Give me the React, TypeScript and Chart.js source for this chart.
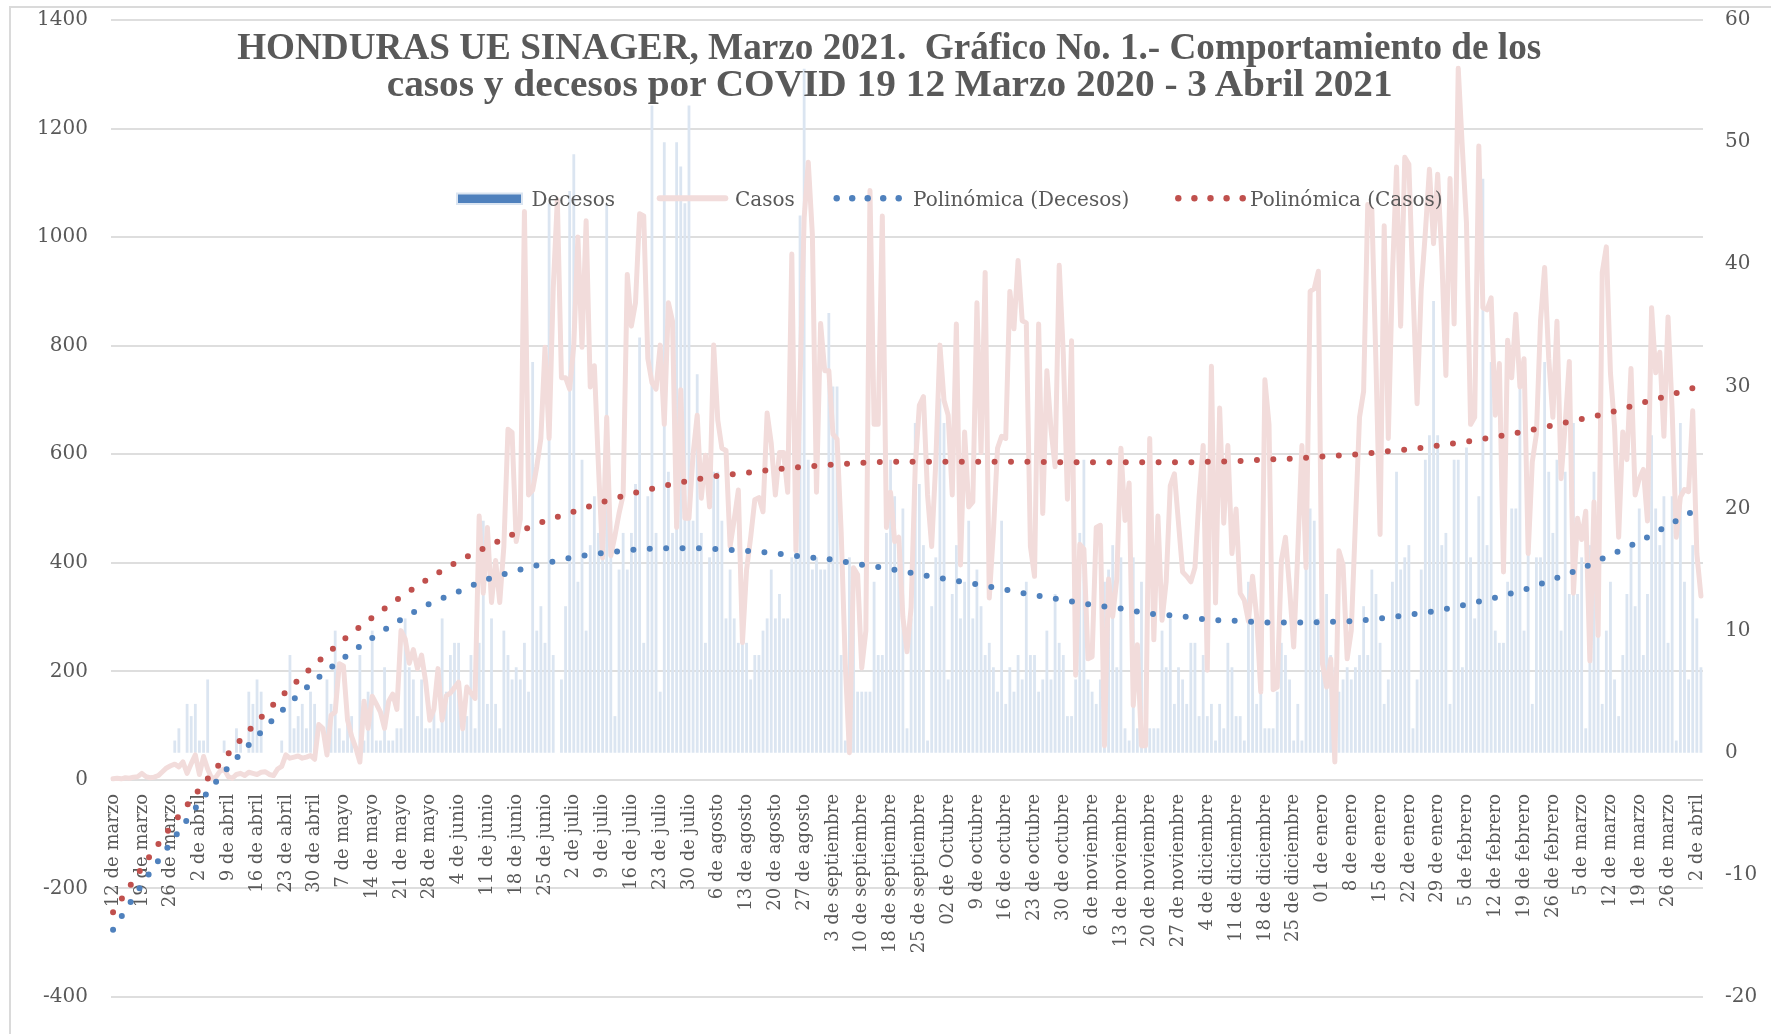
import React, { useEffect, useRef } from 'react';
import { Chart, registerables } from 'chart.js';

Chart.register(...registerables);

// Weekly category labels (one every 7 daily categories)
const weeklyLabels = [
  '12 de marzo', '19 de marzo', '26 de marzo', '2 de abril', '9 de abril', '16 de abril', '23 de abril', '30 de abril',
  '7 de mayo', '14 de mayo', '21 de mayo', '28 de mayo', '4 de junio', '11 de junio', '18 de junio', '25 de junio',
  '2 de julio', '9 de julio', '16 de julio', '23 de julio', '30 de julio', '6 de agosto', '13 de agosto', '20 de agosto',
  '27 de agosto', '3 de septiembre', '10 de septiembre', '18 de septiembre', '25 de septiembre', '02 de Octubre',
  '9 de octubre', '16 de octubre', '23 de octubre', '30 de octubre', '6 de noviembre', '13 de noviembre',
  '20 de noviembre', '27 de noviembre', '4 de diciembre', '11 de diciembre', '18 de diciembre', '25 de diciembre',
  '01 de enero', '8 de enero', '15 de enero', '22 de enero', '29 de enero', '5 de febrero', '12 de febrero',
  '19 de febrero', '26 de febrero', '5 de marzo', '12 de marzo', '19 de marzo', '26 de marzo', '2 de abril',
];

// Daily confirmed cases (left axis)
const casos = [
  2, 3, 2, 4, 3, 5, 6, 12, 6, 4,
  5, 8, 15, 22, 26, 29, 24, 33, 12, 30,
  46, 10, 43, 20, 2, 5, 16, 20, 6, 3,
  10, 12, 8, 14, 12, 10, 14, 15, 10, 8,
  20, 25, 46, 40, 42, 44, 40, 42, 45, 38,
  102, 95, 46, 119, 125, 214, 210, 110, 80, 59,
  33, 145, 95, 154, 140, 125, 95, 145, 158, 130,
  275, 260, 215, 240, 205, 230, 180, 110, 130, 205,
  110, 155, 160, 170, 180, 94, 171, 160, 150, 486,
  344, 465, 327, 404, 327, 430, 646, 640, 439, 480,
  1047, 525, 534, 577, 629, 797, 629, 905, 1069, 741,
  741, 720, 801, 1000, 797, 1030, 724, 763, 577, 409,
  668, 413, 450, 491, 525, 931, 836, 879, 1043, 1039,
  776, 732, 720, 801, 655, 879, 845, 465, 719, 482,
  482, 600, 672, 519, 598, 503, 801, 663, 611, 607,
  430, 480, 534, 253, 387, 447, 516, 520, 494, 676,
  620, 525, 603, 603, 530, 969, 422, 732, 1035, 1138,
  1004, 530, 841, 754, 754, 637, 628, 456, 214, 50,
  391, 378, 206, 275, 1086, 655, 655, 1039, 465, 530,
  439, 447, 300, 236, 318, 577, 690, 706, 525, 430,
  586, 801, 699, 672, 525, 840, 396, 641, 503, 512,
  879, 603, 935, 335, 456, 611, 633, 629, 900, 831,
  957, 846, 842, 430, 375, 840, 491, 754, 646, 577,
  948, 784, 517, 809, 193, 434, 425, 223, 227, 465,
  469, 63, 370, 301, 370, 611, 478, 547, 137, 249,
  63, 63, 629, 258, 486, 294, 365, 542, 564, 473,
  383, 375, 365, 391, 521, 616, 202, 762, 326, 685,
  473, 616, 417, 499, 344, 331, 292, 375, 301, 162,
  737, 655, 166, 171, 404, 447, 353, 245, 422, 616,
  391, 900, 905, 937, 214, 171, 223, 33, 422, 396,
  223, 275, 473, 668, 716, 1060, 1051, 767, 452, 1021,
  629, 930, 1129, 836, 1147, 1134, 905, 693, 904, 1008,
  1125, 988, 1116, 965, 745, 1108, 840, 1311, 1164, 1026,
  655, 668, 1168, 870, 866, 888, 672, 767, 383, 810,
  741, 858, 724, 776, 417, 586, 637, 845, 944, 776,
  668, 845, 555, 655, 771, 344, 482, 443, 495, 219,
  512, 266, 935, 982, 750, 650, 447, 641, 590, 758,
  525, 555, 572, 477, 870, 750, 788, 633, 853, 680,
  447, 521, 535, 531, 680, 417, 339,
];

// Daily deaths (right axis)
const decesos = [
  0, 0, 0, 0, 0, 0, 0, 0, 0, 0,
  0, 0, 0, 0, 0, 1, 2, 0, 4, 3,
  4, 1, 1, 6, 0, 0, 0, 1, 0, 0,
  2, 1, 0, 5, 4, 6, 5, 0, 0, 0,
  0, 1, 0, 8, 2, 3, 4, 2, 5, 4,
  0, 0, 6, 4, 10, 2, 1, 3, 3, 0,
  8, 1, 5, 10, 1, 1, 7, 1, 1, 2,
  2, 11, 7, 6, 3, 6, 2, 2, 4, 2,
  11, 5, 8, 9, 9, 2, 3, 8, 2, 9,
  19, 4, 11, 4, 2, 10, 8, 6, 7, 6,
  9, 5, 32, 10, 12, 9, 45, 8, 0, 6,
  12, 46, 49, 14, 24, 10, 17, 21, 18, 17,
  45, 19, 3, 15, 18, 15, 18, 22, 34, 9,
  21, 53, 18, 5, 50, 23, 18, 50, 48, 45,
  53, 19, 31, 18, 9, 16, 23, 23, 19, 11,
  15, 11, 9, 9, 9, 6, 8, 8, 10, 11,
  15, 11, 13, 11, 11, 16, 17, 44, 56, 24,
  15, 16, 15, 15, 36, 30, 30, 8, 1, 16,
  15, 5, 5, 5, 5, 14, 8, 8, 18, 24,
  21, 17, 20, 2, 11, 27, 22, 17, 1, 12,
  16, 29, 27, 6, 13, 17, 11, 14, 19, 11,
  15, 12, 8, 9, 7, 5, 19, 4, 7, 5,
  8, 6, 14, 8, 8, 5, 6, 10, 6, 13,
  9, 8, 3, 3, 6, 18, 24, 6, 5, 4,
  6, 14, 15, 17, 7, 16, 2, 1, 16, 2,
  14, 1, 2, 2, 2, 10, 7, 11, 4, 7,
  6, 4, 9, 9, 3, 8, 3, 4, 1, 4,
  2, 9, 7, 3, 3, 1, 14, 11, 4, 5,
  2, 2, 2, 5, 9, 8, 6, 1, 4, 1,
  17, 20, 19, 11, 13, 13, 8, 7, 5, 6,
  7, 6, 7, 8, 12, 8, 15, 13, 9, 4,
  6, 14, 23, 15, 16, 17, 2, 6, 15, 24,
  26, 37, 26, 17, 18, 4, 24, 24, 7, 25,
  16, 11, 21, 47, 17, 32, 10, 9, 9, 14,
  20, 20, 30, 10, 17, 4, 16, 16, 32, 23,
  18, 24, 10, 23, 13, 27, 13, 16, 2, 17,
  23, 10, 4, 10, 14, 6, 3, 8, 13, 17,
  12, 20, 8, 13, 26, 20, 17, 21, 9, 21,
  1, 27, 14, 6, 17, 11, 7,
];

// Polynomial trend values read at each weekly label, plus the last day
const trendCasos = [
  -244, -162, -87, -17, 48, 107, 162, 212, 258, 299, 337, 372, 403, 430, 455, 477, 494, 512,
  527, 540, 551, 560, 566, 572, 577, 581, 584, 586, 586, 586, 586, 586, 586, 585, 585, 585,
  585, 585, 586, 587, 590, 592, 596, 599, 604, 609, 616, 623, 632, 642, 653, 665, 677, 693,
  708, 724, 726,
];
const trendDecesos = [
  -14.5, -10.8, -7.4, -4.1, -1.2, 1.35, 3.76, 5.9, 7.75, 9.4, 10.9, 12.2, 13.2, 14.2, 14.9,
  15.5, 16.0, 16.35, 16.6, 16.74, 16.75, 16.67, 16.52, 16.33, 16.05, 15.8, 15.4, 15.05, 14.6,
  14.2, 13.8, 13.35, 12.9, 12.5, 12.1, 11.8, 11.4, 11.2, 10.9, 10.8, 10.67, 10.67, 10.7, 10.78,
  11.0, 11.3, 11.65, 12.15, 12.7, 13.35, 14.2, 15.1, 16.2, 17.3, 18.6, 19.9, 20.0,
];

const titleLines = [
  'HONDURAS UE SINAGER, Marzo 2021.  Gráfico No. 1.- Comportamiento de los',
  'casos y decesos por COVID 19 12 Marzo 2020 - 3 Abril 2021',
];

const TEXT = '#595959';
const BAR = '#dbe5f1';
const BAR_LEGEND = '#4f81bd';
const CASOS = '#f2dcdb';
const TREND_D = '#4f81bd';
const TREND_C = '#c0504d';
const FONT = 'DejaVu Serif';

export default function App() {
  const ref = useRef<HTMLCanvasElement | null>(null);

  useEffect(() => {
    const N = casos.length;
    const labels = Array.from({ length: N }, (_, i) =>
      i % 7 === 0 && i / 7 < weeklyLabels.length ? weeklyLabels[i / 7] : ''
    );
    const trendIdx = weeklyLabels.map((_, k) => k * 7).concat([N - 1]);
    const sparse = (vals: number[]) => {
      const arr: (number | null)[] = new Array(N).fill(null);
      trendIdx.forEach((d, k) => {
        arr[d] = vals[k];
      });
      return arr;
    };

    const chart = new Chart(ref.current as HTMLCanvasElement, {
      type: 'bar',
      data: {
        labels,
        datasets: [
          {
            type: 'line',
            label: 'Polinómica (Casos)',
            data: sparse(trendCasos),
            yAxisID: 'y',
            borderColor: TREND_C,
            borderWidth: 6,
            borderDash: [0, 16.4],
            borderCapStyle: 'round',
            pointRadius: 0,
            spanGaps: true,
            cubicInterpolationMode: 'monotone',
            order: 0,
          } as any,
          {
            type: 'line',
            label: 'Polinómica (Decesos)',
            data: sparse(trendDecesos),
            yAxisID: 'y1',
            borderColor: TREND_D,
            borderWidth: 6,
            borderDash: [0, 16.4],
            borderCapStyle: 'round',
            pointRadius: 0,
            spanGaps: true,
            cubicInterpolationMode: 'monotone',
            order: 0,
          } as any,
          {
            type: 'line',
            label: 'Casos',
            data: casos,
            yAxisID: 'y',
            borderColor: CASOS,
            borderWidth: 5,
            borderJoinStyle: 'round',
            borderCapStyle: 'round',
            pointRadius: 0,
            tension: 0,
            order: 1,
          } as any,
          {
            type: 'bar',
            label: 'Decesos',
            data: decesos,
            yAxisID: 'y1',
            backgroundColor: BAR,
            barPercentage: 0.68,
            categoryPercentage: 1,
            order: 2,
          } as any,
        ],
      },
      options: {
        responsive: false,
        animation: false,
        devicePixelRatio: 1,
        layout: { padding: { left: 0, right: 0, top: 20, bottom: 37 } },
        plugins: {
          legend: { display: false },
          title: { display: false },
          tooltip: { enabled: false },
        },
        scales: {
          x: {
            type: 'category',
            position: { y: 0 } as any,
            offset: true,
            grid: { display: false, drawTicks: false },
            border: { display: false },
            ticks: {
              autoSkip: false,
              maxRotation: 90,
              minRotation: 90,
              padding: 14,
              color: TEXT,
              font: { family: FONT, size: 18 },
            },
            afterFit: (s: any) => {
              s.paddingLeft = 0;
              s.paddingRight = 0;
            },
          },
          y: {
            position: 'left',
            min: -400,
            max: 1400,
            ticks: {
              stepSize: 200,
              padding: 23,
              color: TEXT,
              font: { family: FONT, size: 20 },
              callback: (v: any) => String(v),
            },
            grid: { color: '#dedede', lineWidth: 2, drawTicks: false },
            border: { display: false },
            afterFit: (s: any) => {
              s.width = 111;
              s.paddingTop = 0;
              s.paddingBottom = 0;
            },
          },
          y1: {
            position: 'right',
            min: -20,
            max: 60,
            ticks: {
              stepSize: 10,
              padding: 22,
              color: TEXT,
              font: { family: FONT, size: 20 },
              callback: (v: any) => String(v),
            },
            grid: { display: false, drawTicks: false },
            border: { display: false },
            afterFit: (s: any) => {
              s.width = 68;
              s.paddingTop = 0;
              s.paddingBottom = 0;
            },
          },
        },
      } as any,
    });
    return () => chart.destroy();
  }, []);

  const dotsD = Array.from({ length: 5 }, (_, i) => 836.7 + i * 15.5);
  const dotsC = Array.from({ length: 5 }, (_, i) => 1178.3 + i * 16.1);
  const legendText = { fontFamily: FONT, fontSize: 20, fill: TEXT } as const;

  return (
    <div
      style={{
        position: 'fixed',
        left: 0,
        top: 0,
        width: 1771,
        height: 1034,
        overflow: 'hidden',
        background: '#ffffff',
      }}
    >
      <div
        style={{
          position: 'absolute',
          left: 9,
          top: 6,
          width: 1800,
          height: 1100,
          border: '2px solid #dadada',
          boxSizing: 'border-box',
        }}
      />
      <canvas
        ref={ref}
        width={1771}
        height={1034}
        style={{ position: 'absolute', left: 0, top: 0, width: 1771, height: 1034 }}
      />
      <svg
        width={1771}
        height={1034}
        style={{ position: 'absolute', left: 0, top: 0, pointerEvents: 'none' }}
      >
        <text
          x={889.2}
          y={58.5}
          textAnchor="middle"
          fontFamily="Liberation Serif"
          fontWeight="bold"
          fontSize={37}
          fill={TEXT}
          textLength={1304}
          lengthAdjust="spacingAndGlyphs"
          style={{ whiteSpace: 'pre' }}
        >
          {titleLines[0]}
        </text>
        <text
          x={889.7}
          y={96}
          textAnchor="middle"
          fontFamily="Liberation Serif"
          fontWeight="bold"
          fontSize={37}
          fill={TEXT}
          textLength={1006}
          lengthAdjust="spacingAndGlyphs"
        >
          {titleLines[1]}
        </text>

        <rect x={457} y={193.5} width={65} height={10.5} fill={BAR_LEGEND} stroke={BAR} strokeWidth={2} />
        <text x={531.5} y={205.7} {...legendText}>Decesos</text>
        <line x1={659.7} y1={198.3} x2={725.3} y2={198.3} stroke={CASOS} strokeWidth={6} strokeLinecap="round" />
        <text x={735} y={205.7} {...legendText}>Casos</text>
        {dotsD.map((cx, i) => (
          <circle key={'d' + i} cx={cx} cy={198.3} r={3.2} fill={TREND_D} />
        ))}
        <text x={913} y={205.7} {...legendText}>Polinómica (Decesos)</text>
        {dotsC.map((cx, i) => (
          <circle key={'c' + i} cx={cx} cy={198.3} r={3.2} fill={TREND_C} />
        ))}
        <text x={1250} y={205.7} {...legendText}>Polinómica (Casos)</text>
      </svg>
    </div>
  );
}
